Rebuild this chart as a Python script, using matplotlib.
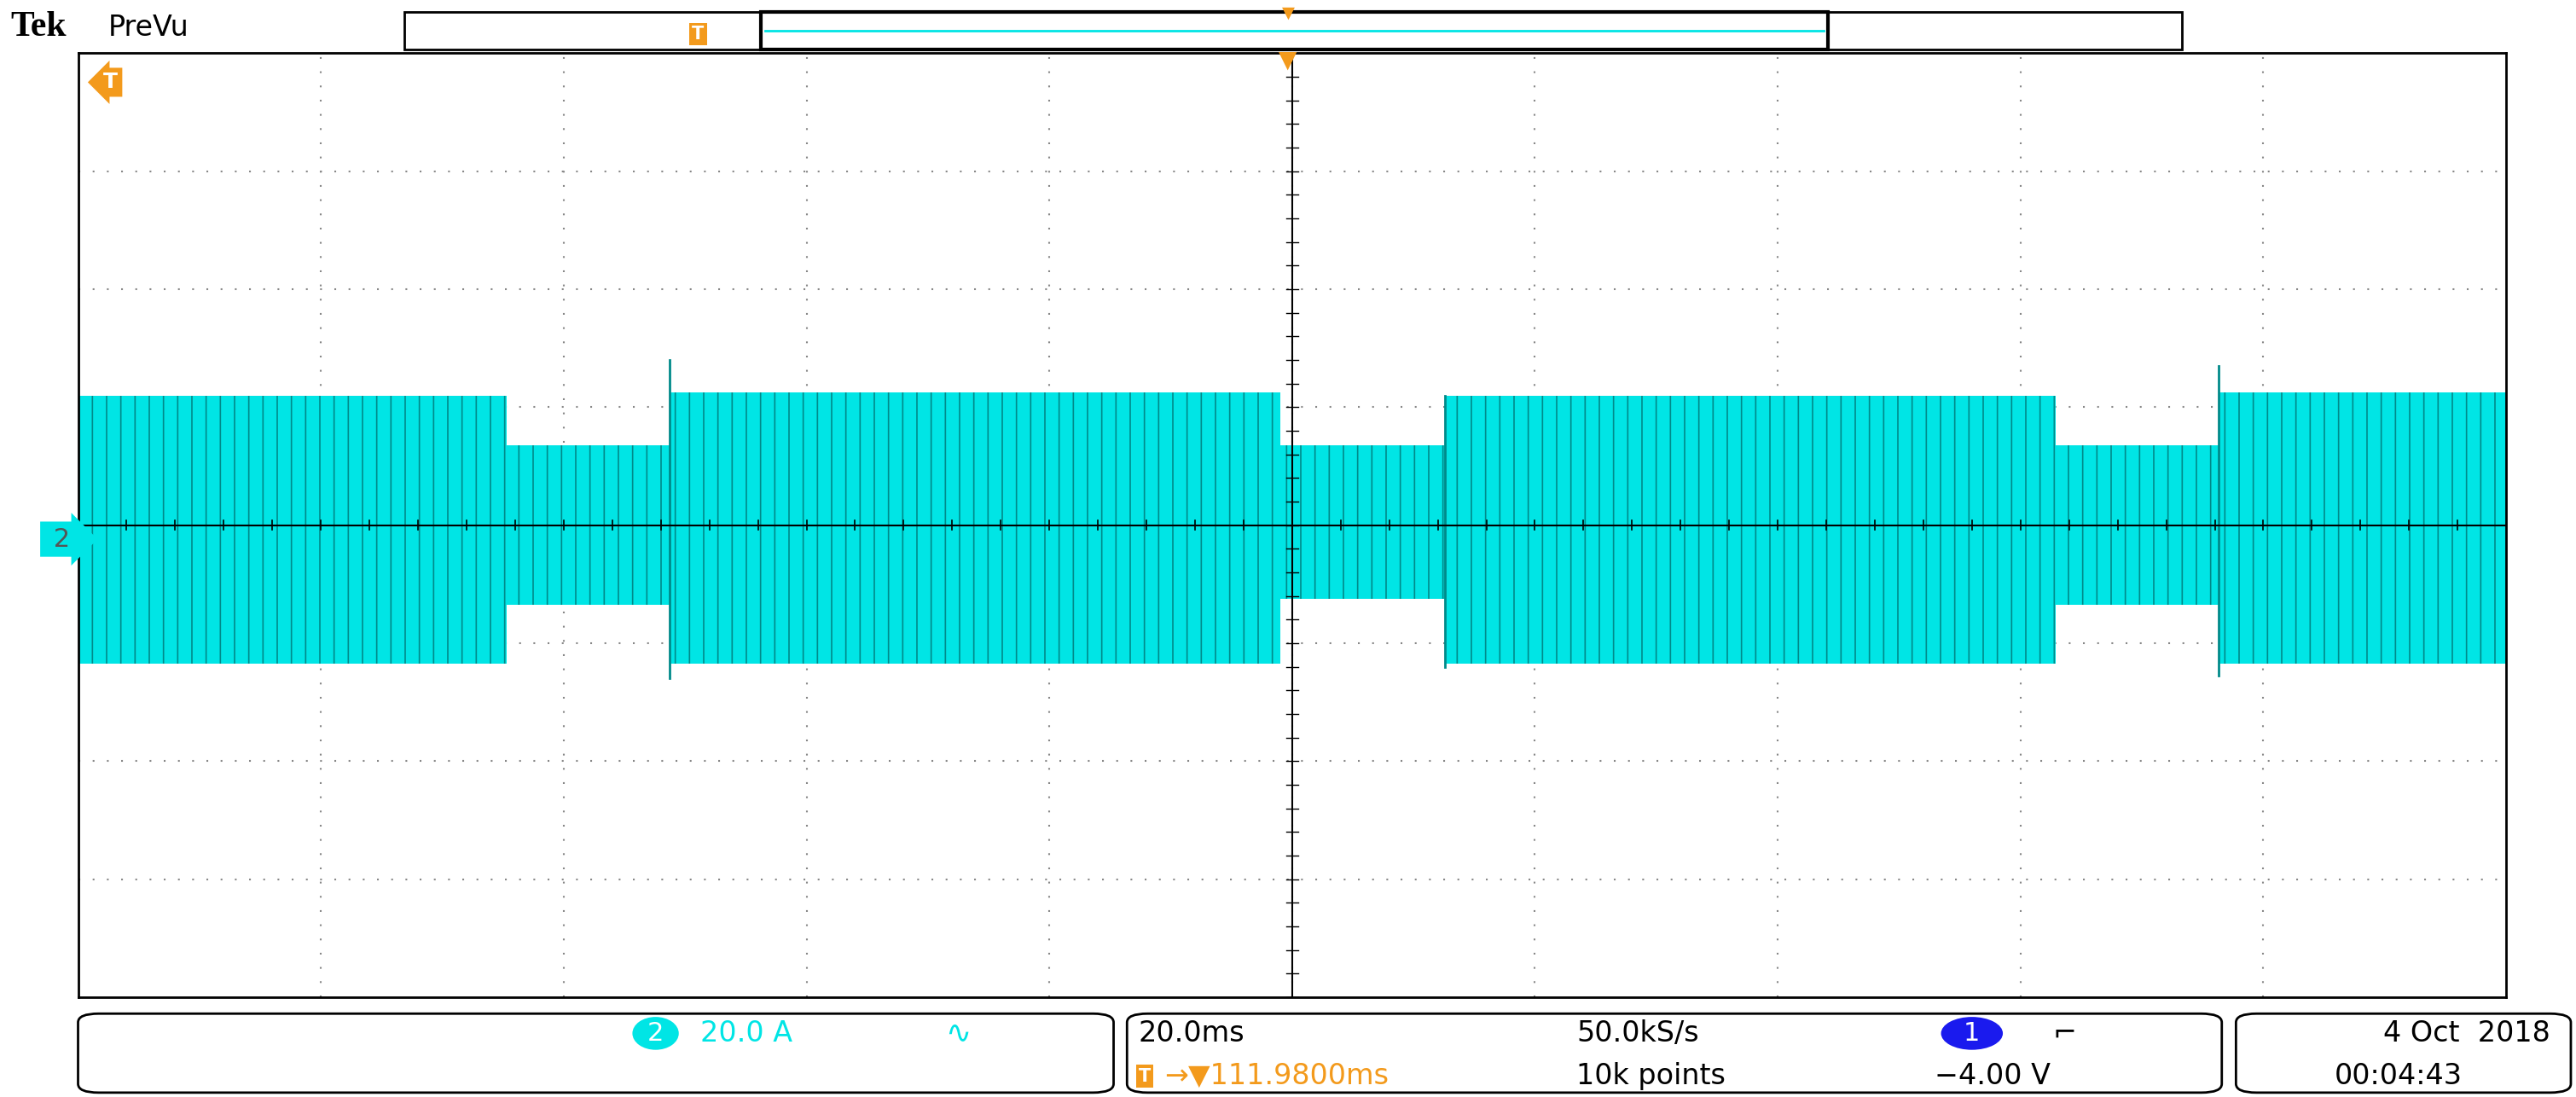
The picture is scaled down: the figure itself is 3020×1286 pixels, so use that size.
import matplotlib
matplotlib.use("Agg")
import matplotlib.pyplot as plt
from matplotlib.patches import FancyBboxPatch, Rectangle, Ellipse
import numpy as np

# Envelope of channel 2 (time in ms, current in A)
seg_t = [0.0, 35.3, 48.7, 99.0, 112.6, 162.9, 176.3, 200.0]
seg_upper = [22.0, 13.5, 22.5, 13.5, 22.0, 13.5, 22.5]
seg_lower = [-23.5, -13.5, -23.5, -12.5, -23.5, -13.5, -23.5]
spike_t = [48.7, 112.6, 176.3]
spike_top = [28.0, 22.0, 27.0]
spike_bot = [-26.0, -24.0, -25.5]

TEAL = "#00e5e5"
DARK = "#008a8a"
ORANGE = "#f39a1c"

plt.rcParams['hatch.linewidth'] = 1.2
fig = plt.figure(figsize=(30.2, 12.86), dpi=100)
ax = fig.add_axes([0.0303, 0.091, 0.9426, 0.8605])
ax.set_xlim(0, 200)
ax.set_ylim(-80, 80)

for i in range(len(seg_upper)):
    t0, t1 = seg_t[i], seg_t[i + 1]
    ax.fill_between([t0, t1], [seg_lower[i]] * 2, [seg_upper[i]] * 2,
                    facecolor=TEAL, edgecolor=DARK, hatch="|", linewidth=0, zorder=2)
for t, a, b in zip(spike_t, spike_top, spike_bot):
    ax.plot([t, t], [b, a], color=DARK, lw=2, zorder=3)

# grid
for x in np.arange(20, 200, 20):
    ax.axvline(x, color="#888888", lw=1.5, ls=(0, (1, 7)), zorder=1)
for y in np.arange(-60, 80, 20):
    ax.axhline(y, color="#888888", lw=1.5, ls=(0, (1, 7)), zorder=1)
ax.axvline(100, color="black", lw=1.5, zorder=4)
ax.axhline(0, color="black", lw=1.5, zorder=4)
for x in np.arange(0, 200, 4):
    ax.plot([x, x], [-0.8, 0.8], color="black", lw=1.2, zorder=4)
for y in np.arange(-80, 80, 4):
    ax.plot([99.5, 100.5], [y, y], color="black", lw=1.0, zorder=4)
ax.set_xticks([]); ax.set_yticks([])
for s in ax.spines.values():
    s.set_linewidth(2)

# markers
fig.text(0.0305, 0.5085, " 2 ", fontsize=22, color="#555555", ha="right", va="center",
         bbox=dict(boxstyle="rarrow,pad=0.2", fc=TEAL, ec="none"))
fig.text(0.043, 0.925, "T", fontsize=18, color="white", weight="bold", ha="center", va="center",
         bbox=dict(boxstyle="larrow,pad=0.2", fc=ORANGE, ec="none"))
fig.text(0.5, 0.945, "▼", fontsize=20, color=ORANGE, ha="center", va="center")

# header
fig.text(0.004, 0.975, "Tek", fontsize=30, weight="bold", family="Liberation Serif", va="center")
fig.text(0.042, 0.975, "PreVu", fontsize=24, va="center")
fig.patches.append(Rectangle((0.157, 0.955), 0.69, 0.034, transform=fig.transFigure, fc="white", ec="black", lw=2))
fig.patches.append(Rectangle((0.2955, 0.955), 0.414, 0.034, transform=fig.transFigure, fc="white", ec="black", lw=3))
fig.lines.append(plt.Line2D([0.297, 0.708], [0.972, 0.972], transform=fig.transFigure, color=TEAL, lw=2))
fig.text(0.271, 0.969, "T", fontsize=15, color="white", weight="bold", ha="center", va="center",
         bbox=dict(boxstyle="square,pad=0.15", fc=ORANGE, ec="none"))
fig.text(0.5, 0.988, "▼", fontsize=14, color=ORANGE, ha="center", va="center")

# bottom boxes
for x0, w in [(0.0303, 0.402), (0.4375, 0.425), (0.868, 0.13)]:
    fig.patches.append(FancyBboxPatch((x0, 0.004), w, 0.072, transform=fig.transFigure,
                       boxstyle="round,pad=0,rounding_size=0.008", fc="white", ec="black", lw=2))
fig.patches.append(Ellipse((0.2545, 0.058), 0.018, 0.03, transform=fig.transFigure, fc=TEAL, ec="none"))
fig.text(0.2545, 0.058, "2", fontsize=22, color="white", ha="center", va="center")
fig.text(0.272, 0.058, "20.0 A", fontsize=24, color=TEAL, va="center")
fig.text(0.367, 0.058, "∿", fontsize=26, color=TEAL, va="center")
fig.text(0.442, 0.058, "20.0ms", fontsize=24, va="center")
fig.text(0.612, 0.058, "50.0kS/s", fontsize=24, va="center")
fig.text(0.612, 0.019, "10k points", fontsize=24, va="center")
fig.text(0.442, 0.019, "T", fontsize=15, color="white", weight="bold", va="center",
         bbox=dict(boxstyle="square,pad=0.15", fc=ORANGE, ec="none"))
fig.text(0.452, 0.019, "→▼111.9800ms", fontsize=24, color=ORANGE, va="center")
fig.patches.append(Ellipse((0.7655, 0.058), 0.024, 0.03, transform=fig.transFigure, fc="#1a1aee", ec="none"))
fig.text(0.7655, 0.058, "1", fontsize=22, color="white", ha="center", va="center")
fig.text(0.797, 0.058, "⌐", fontsize=24, va="center")
fig.text(0.751, 0.019, "−4.00 V", fontsize=24, va="center")
fig.text(0.99, 0.058, "4 Oct  2018", fontsize=24, ha="right", va="center")
fig.text(0.956, 0.019, "00:04:43", fontsize=24, ha="right", va="center")

fig.savefig("out.png", dpi=100)
